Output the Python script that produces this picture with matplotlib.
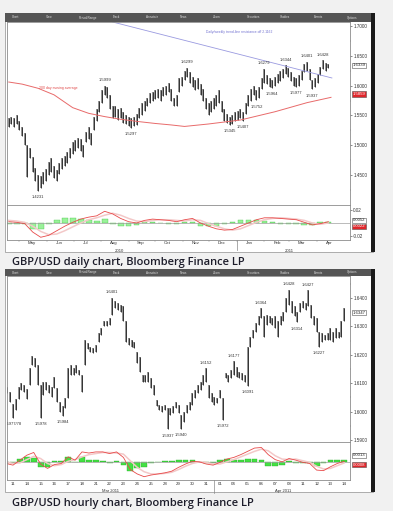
import matplotlib.pyplot as plt
import matplotlib.ticker as mticker
from matplotlib.patches import Rectangle
import numpy as np
import pandas as pd

plt.rcParams["font.family"] = ["Liberation Sans", "DejaVu Sans"]

# Output size in pixels (saved at 100 dpi).
W, H = 393, 511

# ---------------------------------------------------------------
# Daily chart: one bar every 3 calendar days starting 19 Apr 2010
# ---------------------------------------------------------------
daily_start = pd.Timestamp("2010-04-19")
daily_low = [
    1.530, 1.535, 1.530, 1.535, 1.525, 1.515, 1.500, 1.447, 1.478, 1.455,
    1.440, 1.4231, 1.428, 1.435, 1.440, 1.450, 1.455, 1.445, 1.440, 1.452,
    1.460, 1.465, 1.470, 1.478, 1.485, 1.490, 1.495, 1.490, 1.480, 1.505,
    1.510, 1.500, 1.525, 1.540, 1.555, 1.570, 1.585, 1.580, 1.560, 1.545,
    1.548, 1.543, 1.545, 1.538, 1.535, 1.532, 1.5297, 1.532, 1.534, 1.545,
    1.550, 1.558, 1.565, 1.570, 1.575, 1.578, 1.580, 1.575, 1.582, 1.585,
    1.590, 1.575, 1.565, 1.565, 1.590, 1.600, 1.610, 1.615, 1.605, 1.598,
    1.592, 1.595, 1.585, 1.575, 1.560, 1.550, 1.555, 1.560, 1.565, 1.570,
    1.555, 1.540, 1.538, 1.5345, 1.536, 1.540, 1.542, 1.545, 1.5407, 1.552,
    1.565, 1.575, 1.585, 1.5752, 1.580, 1.595, 1.605, 1.602, 1.598, 1.5964,
    1.600, 1.605, 1.608, 1.612, 1.620, 1.615, 1.608, 1.600, 1.5977, 1.600,
    1.610, 1.622, 1.625, 1.610, 1.5937, 1.598, 1.605, 1.618, 1.628, 1.625,
    1.630]
daily_high = [
    1.545, 1.548, 1.545, 1.550, 1.540, 1.530, 1.520, 1.500, 1.495, 1.480,
    1.462, 1.450, 1.448, 1.455, 1.460, 1.472, 1.478, 1.465, 1.458, 1.470,
    1.478, 1.482, 1.488, 1.495, 1.505, 1.508, 1.512, 1.510, 1.500, 1.522,
    1.530, 1.520, 1.548, 1.560, 1.575, 1.592, 1.5999, 1.598, 1.585, 1.565,
    1.565, 1.560, 1.562, 1.555, 1.550, 1.548, 1.545, 1.548, 1.552, 1.562,
    1.570, 1.575, 1.580, 1.588, 1.590, 1.592, 1.595, 1.592, 1.598, 1.600,
    1.605, 1.595, 1.580, 1.585, 1.612, 1.615, 1.625, 1.6299, 1.622, 1.615,
    1.610, 1.612, 1.602, 1.595, 1.580, 1.570, 1.575, 1.580, 1.585, 1.592,
    1.575, 1.560, 1.552, 1.548, 1.550, 1.555, 1.558, 1.560, 1.556, 1.570,
    1.585, 1.595, 1.600, 1.592, 1.598, 1.612, 1.6279, 1.618, 1.612, 1.610,
    1.615, 1.620, 1.625, 1.628, 1.6344, 1.630, 1.622, 1.615, 1.612, 1.618,
    1.625, 1.636, 1.6401, 1.628, 1.610, 1.612, 1.620, 1.632, 1.6428, 1.638,
    1.637]
daily_last = 1.6339

# 200 day moving average (days since daily_start, value)
ma_days = [0, 15, 33, 51, 72, 90, 108, 126, 147, 165, 183, 198, 225, 261, 300, 336, 363]
ma_vals = [1.6060, 1.6025, 1.5955, 1.5845, 1.5630, 1.5535, 1.5480, 1.5435, 1.5395,
           1.5365, 1.5340, 1.5315, 1.5356, 1.5423, 1.5562, 1.5714, 1.5803]
ma_last = 1.5859

# daily/weekly trend-line resistance
trend_days = [117, 364]
trend_vals = [1.7067, 1.6128]

# MACD panel, one reading every 9 days
daily_macd = [0.002, 0.001, -0.001, -0.014, -0.022, -0.019, -0.012, -0.005, 0.001, 0.006,
              0.009, 0.011, 0.018, 0.014, 0.007, 0.002, 0.000, 0.004, 0.006, 0.005,
              0.004, 0.002, 0.005, 0.007, 0.000, -0.005, -0.009, -0.011, -0.010, -0.005,
              0.000, 0.005, 0.008, 0.008, 0.007, 0.006, 0.005, 0.001, -0.003, -0.001,
              0.002]
daily_signal = [0.004, 0.003, 0.001, -0.005, -0.013, -0.018, -0.017, -0.012, -0.006, 0.000,
                0.005, 0.008, 0.012, 0.015, 0.012, 0.007, 0.003, 0.002, 0.004, 0.005,
                0.005, 0.004, 0.003, 0.005, 0.004, -0.001, -0.005, -0.009, -0.011, -0.009,
                -0.004, 0.001, 0.005, 0.007, 0.008, 0.007, 0.006, 0.004, 0.000, -0.002,
                0.000]

# swing points annotated on the daily chart: (bar, 'hi' or 'lo')
daily_marks = [(36, "hi"), (11, "lo"), (46, "lo"), (67, "hi"), (83, "lo"), (88, "lo"),
               (93, "lo"), (96, "hi"), (99, "lo"), (104, "hi"), (108, "lo"), (112, "hi"),
               (114, "lo"), (118, "hi")]

month_names = ["May", "Jun", "Jul", "Aug", "Sep", "Oct", "Nov", "Dec",
               "Jan", "Feb", "Mar", "Apr"]

# ---------------------------------------------------------------
# Hourly chart: one bar every 0.2 trading day, day 0 = 11 Mar 2011
# ---------------------------------------------------------------
hourly_low = [
    1.6065, 1.6035, 1.5977, 1.6005, 1.6045, 1.6075, 1.6070, 1.6045, 1.6094, 1.6165,
    1.6158, 1.6095, 1.5978, 1.6058, 1.6076, 1.6065, 1.6052, 1.6082, 1.6035, 1.6000,
    1.5984, 1.6012, 1.6047, 1.6129, 1.6129, 1.6135, 1.6129, 1.6070, 1.6164, 1.6220,
    1.6211, 1.6205, 1.6211, 1.6246, 1.6270, 1.6300, 1.6300, 1.6305, 1.6340, 1.6364,
    1.6358, 1.6352, 1.6317, 1.6246, 1.6234, 1.6228, 1.6223, 1.6170, 1.6140, 1.6105,
    1.6105, 1.6105, 1.6082, 1.6058, 1.6018, 1.6006, 1.6000, 1.6006, 1.5937, 1.5988,
    1.5994, 1.6012, 1.5994, 1.5940, 1.5964, 1.5994, 1.6006, 1.6023, 1.6047, 1.6064,
    1.6076, 1.6094, 1.6105, 1.6047, 1.6035, 1.6023, 1.6029, 1.6047, 1.5972, 1.6117,
    1.6105, 1.6117, 1.6129, 1.6123, 1.6117, 1.6111, 1.6105, 1.6091, 1.6228, 1.6258,
    1.6281, 1.6305, 1.6329, 1.6264, 1.6305, 1.6311, 1.6305, 1.6293, 1.6264, 1.6305,
    1.6317, 1.6352, 1.6376, 1.6346, 1.6335, 1.6314, 1.6352, 1.6364, 1.6358, 1.6370,
    1.6329, 1.6305, 1.6281, 1.6227, 1.6246, 1.6252, 1.6252, 1.6252, 1.6246, 1.6258,
    1.6258, 1.6264, 1.6317]
hourly_high = [
    1.6085, 1.6070, 1.6025, 1.6045, 1.6085, 1.6100, 1.6095, 1.6078, 1.6155, 1.6195,
    1.6188, 1.6165, 1.6095, 1.6105, 1.6105, 1.6094, 1.6088, 1.6123, 1.6082, 1.6035,
    1.6018, 1.6047, 1.6152, 1.6164, 1.6152, 1.6164, 1.6146, 1.6129, 1.6252, 1.6240,
    1.6228, 1.6223, 1.6234, 1.6276, 1.6293, 1.6317, 1.6317, 1.6329, 1.6401, 1.6388,
    1.6382, 1.6376, 1.6370, 1.6317, 1.6258, 1.6252, 1.6246, 1.6211, 1.6193, 1.6129,
    1.6129, 1.6140, 1.6117, 1.6094, 1.6041, 1.6023, 1.6018, 1.6023, 1.6012, 1.6012,
    1.6018, 1.6035, 1.6023, 1.5988, 1.6000, 1.6023, 1.6035, 1.6064, 1.6076, 1.6094,
    1.6105, 1.6129, 1.6152, 1.6094, 1.6064, 1.6052, 1.6047, 1.6076, 1.6047, 1.6135,
    1.6129, 1.6146, 1.6177, 1.6158, 1.6140, 1.6135, 1.6129, 1.6228, 1.6264, 1.6287,
    1.6311, 1.6335, 1.6364, 1.6335, 1.6340, 1.6335, 1.6329, 1.6335, 1.6317, 1.6335,
    1.6352, 1.6399, 1.6428, 1.6388, 1.6370, 1.6352, 1.6382, 1.6388, 1.6382, 1.6427,
    1.6376, 1.6335, 1.6329, 1.6281, 1.6276, 1.6270, 1.6276, 1.6293, 1.6281, 1.6293,
    1.6281, 1.6317, 1.6364]
hourly_last = 1.6347

# MACD panel, one reading every half trading day from day -0.5
hourly_macd = [-0.0003, -0.0006, 0.0003, 0.0012, 0.0017, -0.0004, -0.0012, -0.0005, -0.0003, 0.0009,
               0.0003, 0.0018, 0.0016, 0.0018, 0.0018, 0.0015, 0.0018, 0.0008, -0.0014, -0.0022,
               -0.0027, -0.0024, -0.0022, -0.0020, -0.0017, -0.0010, -0.0004, 0.0001, 0.0000, -0.0004,
               -0.0006, -0.0001, 0.0005, 0.0008, 0.0013, 0.0019, 0.0025, 0.0026, 0.0013, 0.0004,
               0.0000, 0.0006, 0.0003, -0.0001, -0.0003, -0.0015, -0.0016, -0.0009, -0.0003, 0.0001]
hourly_signal = [0.0000, -0.0003, -0.0002, 0.0004, 0.0010, 0.0006, -0.0003, -0.0007, -0.0005, 0.0001,
                 0.0004, 0.0009, 0.0013, 0.0015, 0.0017, 0.0017, 0.0016, 0.0014, 0.0002, -0.0010,
                 -0.0018, -0.0022, -0.0022, -0.0021, -0.0019, -0.0014, -0.0008, -0.0003, 0.0000, -0.0001,
                 -0.0004, -0.0004, 0.0000, 0.0004, 0.0009, 0.0014, 0.0019, 0.0023, 0.0020, 0.0011,
                 0.0005, 0.0004, 0.0005, 0.0002, -0.0001, -0.0008, -0.0013, -0.0012, -0.0007, -0.0002]

hourly_marks = [(2, "lo", "1.5977/78"), (12, "lo", "1.5978"), (20, "lo", "1.5984"),
                (38, "hi", "1.6401"), (58, "lo", "1.5937"), (63, "lo", "1.5940"),
                (72, "hi", "1.6152"), (78, "lo", "1.5972"), (82, "hi", "1.6177"),
                (87, "lo", "1.6091"), (92, "hi", "1.6364"), (102, "hi", "1.6428"),
                (105, "lo", "1.6314"), (109, "hi", "1.6427"), (113, "lo", "1.6227")]

hour_day_labels = ["11", "14", "15", "16", "17", "18", "21", "22", "23", "24", "25",
                   "28", "29", "30", "31", "01", "04", "05", "06", "07", "08",
                   "11", "12", "13", "14"]

toolbar_items = ["Chart", "View", "Period/Range", "Track", "Annotate", "News",
                 "Zoom", "Securities", "Studies", "Events", "Options"]


def px_rect(x0, y0, x1, y1):
    """Pixel box (top-left origin) -> figure fraction rect."""
    return [x0 / W, 1 - y1 / H, (x1 - x0) / W, (y1 - y0) / H]


def style_axes(ax):
    for s in ax.spines.values():
        s.set_color("#8c8c8c")
        s.set_linewidth(0.6)
    ax.yaxis.tick_right()
    ax.tick_params(axis="y", labelsize=3.3, length=1.5, width=0.4, pad=0.8,
                   colors="#333333")
    ax.tick_params(axis="x", labelsize=3.2, length=0, pad=1.0, colors="#333333")


def draw_bars(ax, x, lo, hi):
    ax.vlines(x, lo, hi, color="#8a8a8a", lw=1.3)
    ax.vlines(x, lo, hi, color="#1a1a1a", lw=0.55)


def mark_swings(ax, x, lo, hi, marks):
    for m in marks:
        i, side = m[0], m[1]
        if side == "hi":
            y, off, txt = hi[i], 4, f"{hi[i]:.4f}"
        else:
            y, off, txt = lo[i], -4.5, f"{lo[i]:.4f}"
        if len(m) > 2:
            txt = m[2]
        ax.annotate(txt, (x[i], y), xytext=(0, off), textcoords="offset points",
                    ha="center", va="center", fontsize=3, color="#333333",
                    annotation_clip=False, clip_on=True)


def price_box(ax, y, txt, fc, tc):
    ax.text(1.008, y, txt, transform=ax.get_yaxis_transform(), fontsize=3.1,
            ha="left", va="center", color=tc,
            bbox=dict(boxstyle="square,pad=0.12", fc=fc, ec="#555555", lw=0.4))


fig = plt.figure(figsize=(W / 100, H / 100), dpi=100, facecolor="#f1f1f1")

# Background layer in pixel coordinates: panels, toolbars, captions.
bg = fig.add_axes([0, 0, 1, 1])
bg.set_xlim(0, W)
bg.set_ylim(H, 0)
bg.axis("off")
for top, bottom, bar_h in [(13, 252, 9), (269, 492, 7)]:
    bg.add_patch(Rectangle((5, top), 368, bottom - top, fc="white", ec="#a0a0a0", lw=0.6))
    bg.add_patch(Rectangle((5, top), 368, bar_h, fc="#555555", ec="none"))
    bg.add_patch(Rectangle((370.5, top), 4, bottom - top, fc="#1a1a1a", ec="none"))
    for k, name in enumerate(toolbar_items):
        bg.text(12 + k * 33.5, top + bar_h / 2, name, fontsize=2.2, color="#dddddd",
                ha="left", va="center")
bg.text(12, 262, "GBP/USD daily chart, Bloomberg Finance LP", fontsize=8,
        family="Open Sans", fontweight="semibold", color="#1c1c2a", va="center")
bg.text(12, 503.5, "GBP/USD hourly chart, Bloomberg Finance LP", fontsize=8,
        family="Open Sans", fontweight="semibold", color="#1c1c2a", va="center")

# ---------------- daily chart ----------------
ax1 = fig.add_axes(px_rect(7, 22, 350, 205))
ax1m = fig.add_axes(px_rect(7, 205, 350, 240), sharex=ax1)
for ax in (ax1, ax1m):
    style_axes(ax)

dx = 3 * np.arange(len(daily_low))
draw_bars(ax1, dx, daily_low, daily_high)
ax1.plot(ma_days, ma_vals, color="#e86a6a", lw=0.7)
ax1.plot(trend_days, trend_vals, color="#9a9ae0", lw=0.6)
ax1.text(56, 1.5962, "200 day moving average", fontsize=2.5, color="#e04848",
         ha="center", va="center")
ax1.text(260, 1.6899, "Daily/weekly trend-line resistance off 2.1162", fontsize=2.4,
         color="#7070d0", ha="center", va="center")
mark_swings(ax1, dx, daily_low, daily_high, daily_marks)

ax1.set_xlim(-2, 384.4)
ax1.set_ylim(1.3997, 1.7067)
ax1.set_yticks(np.arange(1.45, 1.701, 0.05))
ax1.set_yticks(np.arange(1.425, 1.70, 0.05), minor=True)
ax1.tick_params(axis="y", which="minor", length=1, width=0.3)
ax1.yaxis.set_major_formatter(mticker.FormatStrFormatter("%.4f"))
ax1.tick_params(axis="x", labelbottom=False)
price_box(ax1, daily_last, f"{daily_last:.4f}", "white", "#222222")
price_box(ax1, ma_last, f"{ma_last:.4f}", "#e0262b", "white")

mx = 9 * np.arange(len(daily_macd))
hist = np.array(daily_macd) - np.array(daily_signal)
ax1m.bar(mx, hist, width=6.5, color="#9af29a", edgecolor="#3cc03c", lw=0.25)
ax1m.axhline(0, color="#a0a0a0", lw=0.5)
ax1m.plot(mx, daily_signal, color="#f3c8c8", lw=1.1)
ax1m.plot(mx, daily_macd, color="#e84a4a", lw=0.6)
ax1m.set_ylim(-0.0262, 0.0277)
ax1m.set_yticks([-0.02, 0.02])
ax1m.yaxis.set_major_formatter(mticker.FormatStrFormatter("%.2f"))
price_box(ax1m, 0.0042, "0.0052", "white", "#222222")
price_box(ax1m, -0.0048, "0.0022", "#e0262b", "white")

month_start = pd.date_range("2010-05-01", periods=12, freq="MS")
ax1m.set_xticks([(d - daily_start).days + 14 for d in month_start])
ax1m.set_xticklabels(month_names)
ax1m.set_xticks([(d - daily_start).days for d in month_start], minor=True)
ax1m.tick_params(axis="x", which="minor", length=1.5, width=0.3, color="#888888")
xt = ax1m.get_xaxis_transform()
ax1m.text((pd.Timestamp("2010-08-22") - daily_start).days, -0.3, "2010", transform=xt,
          fontsize=3.1, ha="center", va="center", color="#333333")
ax1m.text((pd.Timestamp("2011-03-01") - daily_start).days, -0.3, "2011", transform=xt,
          fontsize=3.1, ha="center", va="center", color="#333333")
ax1m.plot([(pd.Timestamp("2011-01-01") - daily_start).days] * 2, [0, -0.3], transform=xt,
          clip_on=False, color="#888888", lw=0.5)

# ---------------- hourly chart ----------------
ax2 = fig.add_axes(px_rect(7, 276, 350, 442))
ax2m = fig.add_axes(px_rect(7, 442, 350, 480), sharex=ax2)
for ax in (ax2, ax2m):
    style_axes(ax)

hx = -0.4 + 0.2 * np.arange(len(hourly_low))
draw_bars(ax2, hx, hourly_low, hourly_high)
mark_swings(ax2, hx, hourly_low, hourly_high, hourly_marks)
ax2.set_xlim(-0.435, 24.42)
ax2.set_ylim(1.5893, 1.6477)
ax2.set_yticks(np.arange(1.59, 1.6401, 0.01))
ax2.set_yticks(np.arange(1.595, 1.645, 0.01), minor=True)
ax2.tick_params(axis="y", which="minor", length=1, width=0.3)
ax2.yaxis.set_major_formatter(mticker.FormatStrFormatter("%.4f"))
ax2.tick_params(axis="x", labelbottom=False)
price_box(ax2, hourly_last, f"{hourly_last:.4f}", "white", "#222222")

hmx = -0.5 + 0.5 * np.arange(len(hourly_macd))
hhist = np.array(hourly_macd) - np.array(hourly_signal)
ax2m.bar(hmx, hhist, width=0.42, color="#44e044", edgecolor="#1fa81f", lw=0.25)
ax2m.axhline(0, color="#a0a0a0", lw=0.5)
ax2m.plot(hmx, hourly_signal, color="#f3c8c8", lw=1.1)
ax2m.plot(hmx, hourly_macd, color="#e84a4a", lw=0.6)
ax2m.set_ylim(-0.0033, 0.0036)
ax2m.set_yticks([])
price_box(ax2m, 0.0012, "0.0013", "white", "#222222")
price_box(ax2m, -0.0005, "0.0008", "#e0262b", "white")

ax2m.set_xticks(np.arange(len(hour_day_labels)))
ax2m.set_xticklabels(hour_day_labels)
ax2m.tick_params(axis="x", length=1.0, width=0.3, color="#888888", pad=0.6)
xt2 = ax2m.get_xaxis_transform()
ax2m.text(7.03, -0.3, "Mar 2011", transform=xt2, fontsize=3.0, ha="center",
          va="center", color="#333333")
ax2m.text(19.57, -0.3, "Apr 2011", transform=xt2, fontsize=3.0, ha="center",
          va="center", color="#333333")
ax2m.plot([14.57, 14.57], [0, -0.33], transform=xt2, clip_on=False,
          color="#888888", lw=0.5)

fig.savefig("out.png", dpi=100, facecolor=fig.get_facecolor())
